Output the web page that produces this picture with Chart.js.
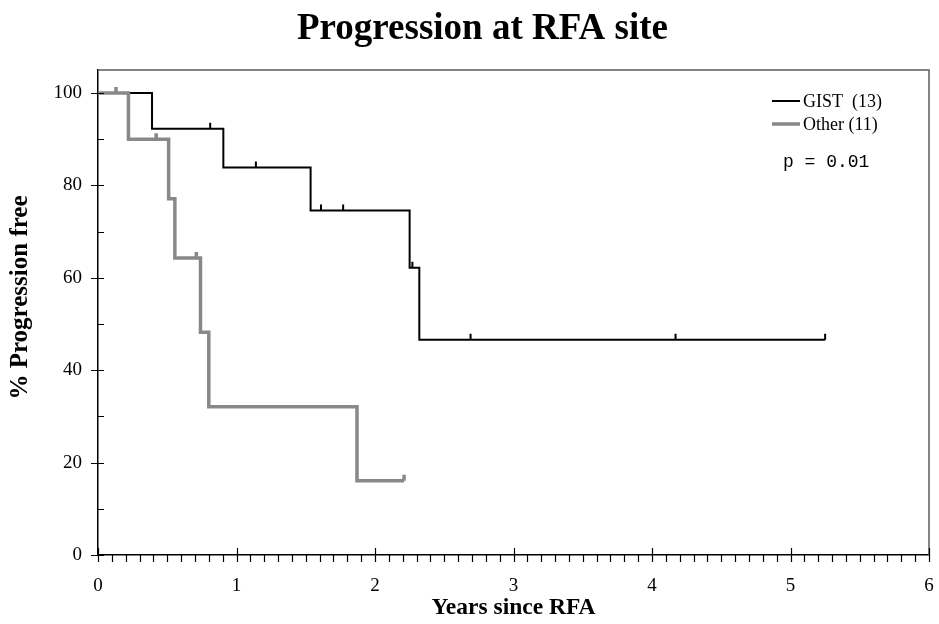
<!DOCTYPE html>
<html>
<head>
<meta charset="utf-8">
<title>Progression at RFA site</title>
<script src="https://cdn.jsdelivr.net/npm/chart.js@4/dist/chart.umd.min.js"></script>
<style>
  html, body { margin: 0; padding: 0; background: #fff; }
  canvas { display: block; }
</style>
</head>
<body>
<canvas id="km" width="939" height="624"></canvas>
<script>
// Kaplan-Meier steps (years, % progression free)
const gistTimes = [0, 0.39, 0.905, 1.535, 2.25, 2.32, 5.25];
const gistSurvival = [100, 92.3, 83.9, 74.6, 62.2, 46.6, 46.6];
const gistCensored = [0.81, 1.14, 1.61, 1.77, 2.27, 2.69, 4.17, 5.25];

const otherTimes = [0, 0.22, 0.51, 0.555, 0.74, 0.80, 1.87, 2.21];
const otherSurvival = [100, 90, 77.1, 64.3, 48.2, 32.1, 16.1, 16.1];
const otherCensored = [0.13, 0.42, 0.71, 2.21];

const xTicks = [0, 1, 2, 3, 4, 5, 6];
const yTicks = [0, 20, 40, 60, 80, 100];
const chartTitle = 'Progression at RFA site';
const yTitle = '% Progression free';
const pValueText = 'p = 0.01';

const SERIF = "'Liberation Serif', 'Times New Roman', serif";

const toPoints = (times, surv) => times.map((t, i) => ({ x: t, y: surv[i] }));

const survivalAt = (times, surv, t) => {
  let value = surv[0];
  for (let i = 0; i < times.length; i += 1) {
    if (times[i] <= t) value = surv[i];
  }
  return value;
};

const curves = [
  { times: gistTimes, surv: gistSurvival, censored: gistCensored },
  { times: otherTimes, surv: otherSurvival, censored: otherCensored },
];

// axis tick marks (major crossing, minor outside on x / inside on y), grey frame, titles
const axisMarks = {
  id: 'axisMarks',
  afterDraw(chart) {
    const { ctx, chartArea: a, scales: { x, y } } = chart;
    ctx.save();
    ctx.strokeStyle = '#5c5c5c';
    ctx.lineWidth = 1.5;
    ctx.beginPath();
    ctx.moveTo(a.left, a.top);
    ctx.lineTo(a.right, a.top);
    ctx.lineTo(a.right, a.bottom);
    ctx.stroke();

    ctx.strokeStyle = '#000';
    ctx.lineWidth = 1.2;
    ctx.beginPath();
    for (let i = 0; i <= 60; i += 1) {
      const px = Math.round(x.getPixelForValue(i / 10)) + 0.5;
      const major = i % 10 === 0;
      ctx.moveTo(px, a.bottom - (major ? 7 : 0));
      ctx.lineTo(px, a.bottom + 7);
    }
    for (let i = 0; i <= 10; i += 1) {
      const py = Math.round(y.getPixelForValue(i * 10)) + 0.5;
      const major = i % 2 === 0;
      ctx.moveTo(a.left - (major ? 7 : 0), py);
      ctx.lineTo(a.left + 6, py);
    }
    ctx.stroke();

    ctx.fillStyle = '#000';
    ctx.textAlign = 'center';
    ctx.textBaseline = 'middle';
    ctx.font = `bold 37px ${SERIF}`;
    ctx.fillText(chartTitle, (a.left + a.right) / 2 - 31, 29);

    ctx.translate(21, (a.top + a.bottom) / 2 - 15);
    ctx.rotate(-Math.PI / 2);
    ctx.font = `bold 25px ${SERIF}`;
    ctx.fillText(yTitle, 0, 0);
    ctx.restore();
  },
};

// censor marks and in-plot legend
const kmExtras = {
  id: 'kmExtras',
  afterDatasetsDraw(chart) {
    const { ctx, chartArea: a, scales: { x, y } } = chart;
    ctx.save();
    chart.data.datasets.forEach((ds, index) => {
      const curve = curves[index];
      ctx.strokeStyle = ds.borderColor;
      ctx.lineWidth = ds.borderWidth;
      ctx.beginPath();
      curve.censored.forEach(t => {
        const px = x.getPixelForValue(t);
        const py = y.getPixelForValue(survivalAt(curve.times, curve.surv, t));
        ctx.moveTo(px, py);
        ctx.lineTo(px, py - 6);
      });
      ctx.stroke();
    });

    const lx = a.right - 157;
    chart.data.datasets.forEach((ds, index) => {
      const ly = a.top + 31 + index * 23;
      ctx.strokeStyle = ds.borderColor;
      ctx.lineWidth = ds.borderWidth;
      ctx.beginPath();
      ctx.moveTo(lx, ly);
      ctx.lineTo(lx + 28, ly);
      ctx.stroke();
      ctx.fillStyle = '#000';
      ctx.font = `18px ${SERIF}`;
      ctx.textBaseline = 'middle';
      ctx.textAlign = 'left';
      ctx.fillText(ds.label, lx + 31, ly + 1);
    });
    ctx.font = "18px 'Liberation Mono', 'Courier New', monospace";
    ctx.fillText(pValueText, lx + 11, a.top + 92);
    ctx.restore();
  },
};

new Chart(document.getElementById('km'), {
  type: 'line',
  data: {
    datasets: [
      {
        label: 'GIST  (13)',
        data: toPoints(gistTimes, gistSurvival),
        stepped: true,
        borderColor: '#000000',
        borderWidth: 2,
        pointRadius: 0,
        fill: false,
        order: 2,
      },
      {
        label: 'Other (11)',
        data: toPoints(otherTimes, otherSurvival),
        stepped: true,
        borderColor: '#888888',
        borderWidth: 3.5,
        pointRadius: 0,
        fill: false,
        order: 1,
      },
    ],
  },
  options: {
    responsive: false,
    devicePixelRatio: 1,
    animation: false,
    layout: { padding: { left: 0, right: 10, top: 70, bottom: 0 } },
    plugins: {
      legend: { display: false },
      tooltip: { enabled: false },
      title: { display: false },
    },
    scales: {
      x: {
        type: 'linear',
        min: 0,
        max: 6,
        afterBuildTicks: scale => { scale.ticks = xTicks.map(value => ({ value })); },
        afterFit: scale => {
          scale.height = 69;
          scale.paddingLeft = 0;
          scale.paddingRight = 0;
        },
        grid: { display: false, drawTicks: false },
        border: { display: true, color: '#000', width: 1.5 },
        ticks: {
          color: '#000',
          padding: 20,
          autoSkip: false,
          maxRotation: 0,
          font: { family: SERIF, size: 19 },
        },
        title: {
          display: true,
          text: 'Years since RFA',
          color: '#000',
          font: { family: SERIF, size: 23.5, weight: 'bold' },
          padding: { top: 0, bottom: 2 },
        },
      },
      y: {
        type: 'linear',
        min: 0,
        max: 105,
        afterBuildTicks: scale => { scale.ticks = yTicks.map(value => ({ value })); },
        afterFit: scale => {
          scale.width = 98;
          scale.paddingTop = 0;
          scale.paddingBottom = 0;
        },
        grid: { display: false, drawTicks: false },
        border: { display: true, color: '#000', width: 1.5 },
        ticks: {
          color: '#000',
          padding: 16,
          autoSkip: false,
          font: { family: SERIF, size: 19 },
        },
        title: { display: false },
      },
    },
  },
  plugins: [axisMarks, kmExtras],
});
</script>
</body>
</html>
